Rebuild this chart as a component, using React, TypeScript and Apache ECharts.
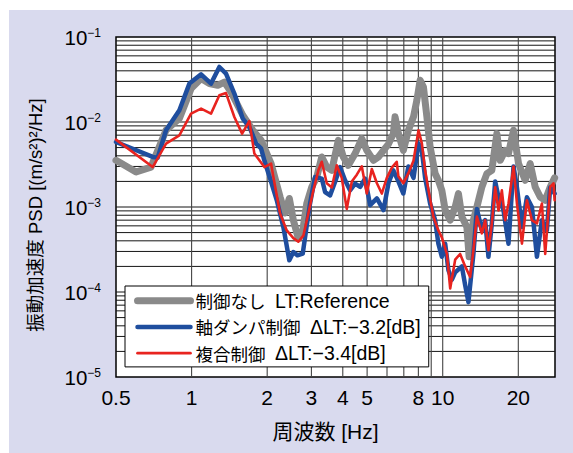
import React, { useEffect, useRef } from "react";
import * as echarts from "echarts";

// ---- data ----
const seriesNames = ["制御なし", "軸ダンパ制御", "複合制御"];
const legendSuffix = ["LT:Reference", "ΔLT:−3.2[dB]", "ΔLT:−3.4[dB]"];

const grayFreq = [0.5, 0.601, 0.689, 0.791, 0.894, 0.995, 1.091, 1.177, 1.271, 1.351, 1.436, 1.599, 1.752, 1.891, 2.073, 2.251, 2.356, 2.45, 2.542, 2.662, 2.771, 2.875, 3.01, 3.151, 3.299, 3.454, 3.616, 3.841, 4.02, 4.209, 4.479, 4.762, 4.986, 5.3, 5.55, 5.81, 6.08, 6.36, 6.46, 6.66, 6.97, 7.3, 7.65, 7.89, 8.13, 8.38, 8.65, 8.91, 9.33, 9.61, 9.92, 10.23, 10.71, 11.21, 11.55, 11.92, 12.48, 12.74, 13.25, 13.68, 14.32, 14.99, 15.69, 16.43, 16.94, 17.73, 18.28, 19.14, 20.04, 21.31, 22.31, 23.35, 24.45, 25.6, 26.8, 27.9];
const grayPSD = [0.00354, 0.00258, 0.00295, 0.008, 0.011, 0.0247, 0.0324, 0.0283, 0.027, 0.0295, 0.0225, 0.012, 0.008, 0.0061, 0.00324, 0.00131, 0.00085, 0.00126, 0.0007, 0.000425, 0.00053, 0.0011, 0.00172, 0.00225, 0.00388, 0.00295, 0.0027, 0.00609, 0.00388, 0.00309, 0.00425, 0.00638, 0.00464, 0.00354, 0.00388, 0.00464, 0.0055, 0.0073, 0.0115, 0.0073, 0.00464, 0.008, 0.0115, 0.018, 0.031, 0.0258, 0.0115, 0.0051, 0.00247, 0.00206, 0.00157, 0.00092, 0.0007, 0.001, 0.00144, 0.00077, 0.00058, 0.00026, 0.0007, 0.001, 0.00172, 0.00247, 0.0027, 0.0073, 0.00354, 0.00464, 0.00425, 0.008, 0.00324, 0.00206, 0.00324, 0.00172, 0.00131, 0.0012, 0.00172, 0.0022];

const blueFreq = [0.5, 0.7, 0.733, 0.791, 0.894, 0.98, 1.091, 1.195, 1.29, 1.371, 1.48, 1.599, 1.699, 1.807, 1.89, 1.95, 2.054, 2.184, 2.32, 2.45, 2.542, 2.637, 2.771, 2.857, 2.963, 3.102, 3.299, 3.401, 3.56, 3.726, 3.901, 4.084, 4.275, 4.479, 4.689, 4.908, 5.14, 5.47, 5.81, 6.08, 6.36, 6.66, 6.97, 7.3, 7.65, 8.01, 8.26, 8.51, 8.91, 9.33, 9.61, 9.92, 10.23, 10.54, 10.88, 11.21, 11.92, 12.29, 12.66, 13.25, 13.68, 14.32, 14.76, 15.21, 15.69, 16.18, 16.68, 17.46, 18.28, 19.14, 19.75, 20.68, 21.64, 22.66, 23.72, 24.83, 25.99, 26.8, 27.9];
const bluePSD = [0.00582, 0.00388, 0.00381, 0.008, 0.01373, 0.0283, 0.0364, 0.0283, 0.0444, 0.0371, 0.0216, 0.01096, 0.00873, 0.00557, 0.0049, 0.0035, 0.00216, 0.0012, 0.00058, 0.000236, 0.000295, 0.00027, 0.000283, 0.000532, 0.0011, 0.00225, 0.00216, 0.0015, 0.00137, 0.00197, 0.00295, 0.00206, 0.00157, 0.00188, 0.00172, 0.00216, 0.00105, 0.00126, 0.00092, 0.0019, 0.0027, 0.002, 0.00144, 0.003, 0.0022, 0.0056, 0.0046, 0.0022, 0.0011, 0.0007, 0.00037, 0.00026, 0.00037, 0.00018, 0.00014, 0.00017, 0.0002, 0.00012, 0.000076, 0.00028, 0.00095, 0.00053, 0.0007, 0.00026, 0.00064, 0.002, 0.0013, 0.00092, 0.00037, 0.003, 0.0017, 0.00058, 0.0013, 0.001, 0.00026, 0.0007, 0.00053, 0.0017, 0.00144];

const redFreq = [0.5, 0.7, 0.791, 0.894, 0.995, 1.091, 1.195, 1.29, 1.371, 1.48, 1.589, 1.699, 1.778, 1.949, 2.073, 2.117, 2.251, 2.393, 2.542, 2.662, 2.786, 2.917, 3.054, 3.198, 3.299, 3.454, 3.616, 3.785, 3.962, 4.148, 4.345, 4.549, 4.762, 4.986, 5.22, 5.47, 5.72, 5.99, 6.27, 6.56, 6.66, 6.97, 7.3, 7.65, 8.01, 8.26, 8.51, 8.77, 9.18, 9.61, 9.92, 10.39, 10.71, 11.21, 11.73, 12.29, 12.86, 13.25, 13.68, 14.32, 14.76, 15.21, 15.69, 16.18, 16.68, 17.2, 17.73, 18.28, 19.14, 19.75, 20.68, 21.64, 22.66, 23.72, 24.83, 25.6, 26.8, 27.62, 27.9];
const redPSD = [0.00621, 0.00295, 0.00557, 0.00697, 0.01256, 0.01438, 0.01256, 0.0206, 0.0219, 0.01145, 0.0073, 0.01027, 0.00425, 0.00295, 0.00324, 0.00225, 0.00084, 0.00053, 0.00043, 0.00039, 0.00046, 0.00084, 0.00157, 0.0027, 0.0034, 0.0019, 0.0017, 0.0031, 0.0022, 0.00095, 0.002, 0.0024, 0.003, 0.00144, 0.0028, 0.0019, 0.00144, 0.0022, 0.0029, 0.0034, 0.0023, 0.0019, 0.0025, 0.0035, 0.008, 0.0056, 0.0027, 0.0016, 0.00077, 0.00053, 0.00044, 0.00028, 0.00011, 0.00024, 0.00028, 0.0002, 0.00015, 0.00031, 0.00077, 0.00049, 0.0007, 0.00031, 0.00064, 0.0017, 0.00091, 0.00157, 0.0007, 0.0011, 0.003, 0.0011, 0.00037, 0.0012, 0.0007, 0.00064, 0.0011, 0.00028, 0.00172, 0.0019, 0.0012];

// ---- axis ticks / grid ----
const xMin = 0.5;
const xMax = 28;
const yMin = 1e-5;
const yMax = 1e-1;
const xLabelValues = [0.5, 1, 2, 3, 4, 5, 8, 10, 20];
const xGridValues = [1, 2, 3, 4, 5, 6, 7, 8, 9, 10, 20];
const yLabelValues = [1e-5, 1e-4, 1e-3, 1e-2, 1e-1];
const yExponentLabels = ["−5", "−4", "−3", "−2", "−1"];
const yMantissas = [1, 2, 3, 4, 5, 6, 7, 8, 9];
const yDecades = [1e-5, 1e-4, 1e-3, 1e-2];

const seriesColors = ["#8a8a8a", "#1f4e9e", "#e8231f"];
const seriesWidths = [7, 4.5, 2.6];

const LATIN = "'Liberation Sans', 'Noto Sans CJK JP', sans-serif";
const CJK = "'Noto Sans CJK JP', sans-serif";

export default function App() {
  const ref = useRef<HTMLDivElement>(null);

  useEffect(() => {
    if (!ref.current) return;
    const chart = echarts.init(ref.current, null, { renderer: "svg" });

    const yGridValues: number[] = [];
    yDecades.forEach((d, di) =>
      yMantissas.forEach((m) => {
        if (!(di === 0 && m === 1)) yGridValues.push(m * d);
      })
    );

    const gridSeries: any[] = [
      ...yGridValues.map((v) => ({
        type: "line",
        data: [
          [xMin, v],
          [xMax, v],
        ],
        symbol: "none",
        silent: true,
        z: 1,
        lineStyle: { color: "#151515", width: 1 },
        emphasis: { disabled: true },
      })),
      ...xGridValues.map((v) => ({
        type: "line",
        data: [
          [v, yMin],
          [v, yMax],
        ],
        symbol: "none",
        silent: true,
        z: 1,
        lineStyle: { color: "#444444", width: 1.1 },
        emphasis: { disabled: true },
      })),
    ];

    const mk = (i: number, f: number[], p: number[], z: number) => ({
      name: seriesNames[i],
      type: "line",
      data: f.map((x, k) => [x, p[k]]),
      symbol: "none",
      z,
      silent: true,
      lineStyle: { color: seriesColors[i], width: seriesWidths[i], cap: "round", join: "round" },
      itemStyle: { color: seriesColors[i] },
      emphasis: { disabled: true },
    });

    chart.setOption({
      animation: false,
      grid: {
        left: 116,
        top: 37,
        right: 18,
        bottom: 76,
        show: true,
        backgroundColor: "#ffffff",
        borderColor: "#000000",
        borderWidth: 1.5,
      },
      xAxis: {
        type: "log",
        logBase: 10,
        min: xMin,
        max: xMax,
        axisLine: { show: false },
        axisTick: { show: false },
        splitLine: { show: false },
        axisLabel: {
          customValues: xLabelValues,
          formatter: (v: number) => String(v),
          fontSize: 21,
          color: "#000",
          margin: 10,
          fontFamily: LATIN,
        },
        name: "周波数 [Hz]",
        nameLocation: "middle",
        nameGap: 44,
        nameTextStyle: { fontSize: 21, color: "#000", fontFamily: LATIN, padding: [0, 20, 0, 0] },
      },
      yAxis: {
        type: "log",
        logBase: 10,
        min: yMin,
        max: yMax,
        axisLine: { show: false },
        axisTick: { show: false },
        splitLine: { show: false },
        axisLabel: {
          customValues: yLabelValues,
          margin: 15,
          formatter: (v: number) => {
            let idx = 0;
            yLabelValues.forEach((t, i) => {
              if (Math.abs(Math.log10(t) - Math.log10(v)) < 0.01) idx = i;
            });
            return `{b|10}{s|${yExponentLabels[idx]}}`;
          },
          rich: {
            b: { fontSize: 20.5, fontFamily: LATIN, color: "#000" },
            s: { fontSize: 12, fontFamily: LATIN, color: "#000", verticalAlign: "top" },
          },
        },
        name: "振動加速度 PSD [(m/s²)²/Hz]",
        nameLocation: "middle",
        nameGap: 71,
        nameTextStyle: { fontSize: 18.5, color: "#000", fontFamily: LATIN, padding: [0, 16, 0, 0] },
      },
      legend: {
        orient: "vertical",
        left: 125,
        top: 286,
        padding: [5, 8, 4, 9],
        itemWidth: 53,
        itemHeight: 20,
        itemGap: 6.7,
        backgroundColor: "#ffffff",
        borderColor: "#000000",
        borderWidth: 1,
        borderRadius: 0,
        selectedMode: false,
        itemStyle: { opacity: 0 },
        data: seriesNames.map((n, i) => ({
          name: n,
          lineStyle: { width: seriesWidths[i], color: seriesColors[i], cap: "round" },
        })),
        formatter: (n: string) => `{c|${n}}  {l|${legendSuffix[seriesNames.indexOf(n)]}}`,
        textStyle: {
          color: "#000",
          fontSize: 17,
          fontFamily: LATIN,
          rich: {
            c: { fontSize: 17.5, fontFamily: CJK, color: "#000" },
            l: { fontSize: 19.5, fontFamily: LATIN, color: "#000" },
          },
        },
      },
      series: [
        ...gridSeries,
        mk(0, grayFreq, grayPSD, 3),
        mk(1, blueFreq, bluePSD, 4),
        mk(2, redFreq, redPSD, 5),
      ],
    });

    return () => chart.dispose();
  }, []);

  return (
    <div style={{ position: "fixed", left: 0, top: 0, width: 573, height: 453, background: "#ffffff" }}>
      <div style={{ position: "absolute", left: 9, top: 10, width: 564, height: 443, background: "#d9daee" }} />
      <div ref={ref} style={{ position: "absolute", left: 0, top: 0, width: 573, height: 453 }} />
    </div>
  );
}
